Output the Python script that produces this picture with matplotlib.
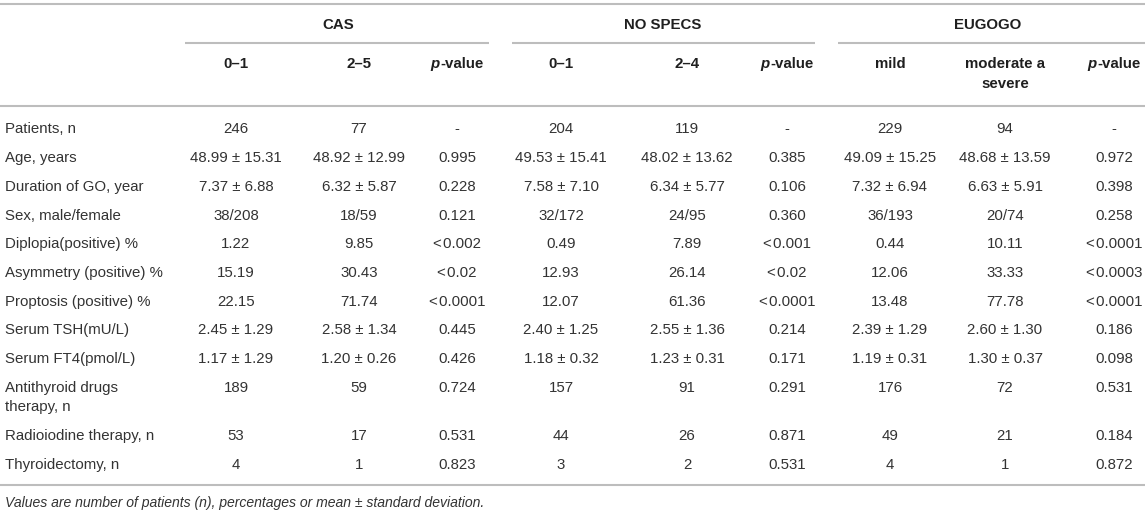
import matplotlib
matplotlib.use("Agg")
import matplotlib.pyplot as plt

# ---------------- data ----------------
groups = ["CAS", "NO SPECS", "EUGOGO"]
subheaders = [["0–1", "2–5", None], ["0–1", "2–4", None], ["mild", "moderate a\nsevere", None]]
row_labels = ["Patients, n", "Age, years", "Duration of GO, year", "Sex, male/female",
              "Diplopia(positive) %", "Asymmetry (positive) %", "Proptosis (positive) %",
              "Serum TSH(mU/L)", "Serum FT4(pmol/L)", "Antithyroid drugs\ntherapy, n",
              "Radioiodine therapy, n", "Thyroidectomy, n"]
T = "\u200a"
cas_01 = ["246", "48.99 ± 15.31", "7.37 ± 6.88", "38/208", "1.22", "15.19", "22.15",
          "2.45 ± 1.29", "1.17 ± 1.29", "189", "53", "4"]
cas_25 = ["77", "48.92 ± 12.99", "6.32 ± 5.87", "18/59", "9.85", "30.43", "71.74",
          "2.58 ± 1.34", "1.20 ± 0.26", "59", "17", "1"]
cas_p = ["-", "0.995", "0.228", "0.121", "<"+T+"0.002", "<"+T+"0.02", "<"+T+"0.0001",
         "0.445", "0.426", "0.724", "0.531", "0.823"]
ns_01 = ["204", "49.53 ± 15.41", "7.58 ± 7.10", "32/172", "0.49", "12.93", "12.07",
         "2.40 ± 1.25", "1.18 ± 0.32", "157", "44", "3"]
ns_24 = ["119", "48.02 ± 13.62", "6.34 ± 5.77", "24/95", "7.89", "26.14", "61.36",
         "2.55 ± 1.36", "1.23 ± 0.31", "91", "26", "2"]
ns_p = ["-", "0.385", "0.106", "0.360", "<"+T+"0.001", "<"+T+"0.02", "<"+T+"0.0001",
        "0.214", "0.171", "0.291", "0.871", "0.531"]
eu_mild = ["229", "49.09 ± 15.25", "7.32 ± 6.94", "36/193", "0.44", "12.06", "13.48",
           "2.39 ± 1.29", "1.19 ± 0.31", "176", "49", "4"]
eu_mod = ["94", "48.68 ± 13.59", "6.63 ± 5.91", "20/74", "10.11", "33.33", "77.78",
          "2.60 ± 1.30", "1.30 ± 0.37", "72", "21", "1"]
eu_p = ["-", "0.972", "0.398", "0.258", "<"+T+"0.0001", "<"+T+"0.0003", "<"+T+"0.0001",
        "0.186", "0.098", "0.531", "0.184", "0.872"]
footnote = "Values are number of patients (n), percentages or mean ± standard deviation."

columns = [cas_01, cas_25, cas_p, ns_01, ns_24, ns_p, eu_mild, eu_mod, eu_p]

# ---------------- layout ----------------
W, H = 1145, 514
FAM = ["Liberation Sans", "DejaVu Sans"]
FS = 10.85
BODY = "#333333"
HEAD = "#1f1f1f"
LINEC = "#bdbdbd"
LW = 1.5

col_x = [236, 359, 457, 561, 687, 787, 890, 1005, 1114]
group_x = [338, 663, 988]
group_lines = [(185, 489), (512, 815), (838, 1145)]
label_x = 5
cap_half = 5.4
line_gap = 19.5
row_pitch = 28.7
first_row = 128

fig = plt.figure(figsize=(W / 100, H / 100), dpi=100)
ax = fig.add_axes([0, 0, 1, 1])
ax.set_xlim(0, W)
ax.set_ylim(H, 0)
ax.axis("off")


def hline(y, x0, x1):
    ax.plot([x0, x1], [y, y], color=LINEC, lw=LW, solid_capstyle="butt")


def txt(x, y, s, ha="center", weight="normal", style="normal", color=BODY, size=FS):
    for i, line in enumerate(s.split("\n")):
        ax.text(x, y + cap_half + i * line_gap, line, ha=ha, va="baseline",
                family=FAM, fontsize=size, weight=weight, style=style, color=color)


# horizontal rules
hline(4, 0, W)
for x0, x1 in group_lines:
    hline(43, x0, x1)
hline(106, 0, W)
hline(485, 0, W)

# group headers
for g, gx in zip(groups, group_x):
    txt(gx, 24, g, weight="bold", color=HEAD)

# sub headers
fig.canvas.draw()
renderer = fig.canvas.get_renderer()
k = 0
for gi, subs in enumerate(subheaders):
    for s in subs:
        x = col_x[k]
        if s is None:
            # italic p + "-value", centred as one string
            tp = ax.text(0, 0, "p", family=FAM, fontsize=FS, weight="bold", style="italic")
            tv = ax.text(0, 0, "-value", family=FAM, fontsize=FS, weight="bold")
            wp = tp.get_window_extent(renderer).width
            wv = tv.get_window_extent(renderer).width
            tp.remove(); tv.remove()
            x0 = x - (wp + wv) / 2
            ax.text(x0, 63 + cap_half, "p", ha="left", va="baseline", family=FAM,
                    fontsize=FS, weight="bold", style="italic", color=HEAD)
            ax.text(x0 + wp, 63 + cap_half, "-value", ha="left", va="baseline",
                    family=FAM, fontsize=FS, weight="bold", color=HEAD)
        else:
            txt(x, 63, s, weight="bold", color=HEAD)
        k += 1

# body rows
y = first_row
for r, lab in enumerate(row_labels):
    txt(label_x, y, lab, ha="left")
    for cx, col in zip(col_x, columns):
        txt(cx, y, col[r])
    y += row_pitch + (lab.count("\n")) * line_gap

# footnote
txt(label_x, 502, footnote, ha="left", style="italic", size=10.1)

fig.savefig("out.png", dpi=100)
